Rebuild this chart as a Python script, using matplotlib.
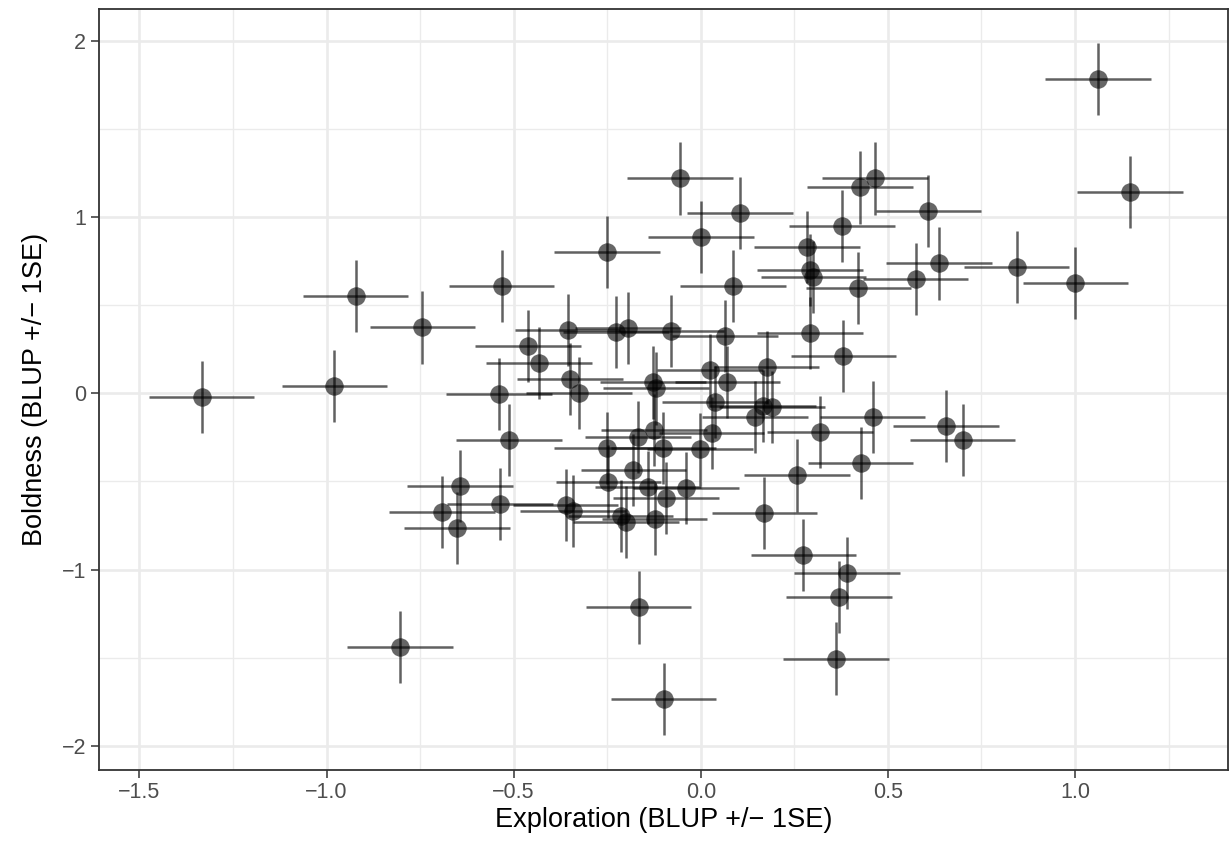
import matplotlib
matplotlib.use("Agg")
import matplotlib.pyplot as plt

plt.rcParams["font.family"] = ["Liberation Sans", "DejaVu Sans"]

# BLUP estimates
exploration = [
    -0.056, 0.105, -0.251, 0.000, 0.086, 0.284, 0.377, 0.425, 0.466, 0.608,
    0.292, 0.301, 0.421, 0.574, 0.637, 1.062, 1.147, 0.844, 1.001, 0.700,
    -1.334, -0.922, -0.979, -0.804, -0.532, -0.744, -0.461, -0.432, -0.356, -0.227,
    -0.195, -0.080, -0.350, -0.325, -0.539, -0.512, -0.127, -0.120, -0.167, -0.125,
    -0.250, -0.100, -0.002, -0.180, -0.247, -0.644, -0.692, -0.652, -0.537, -0.361,
    -0.341, -0.141, -0.039, -0.093, -0.214, -0.200, -0.123, -0.166, 0.065, 0.292,
    0.381, 0.025, 0.071, 0.176, 0.038, 0.145, 0.167, 0.191, 0.319, 0.459,
    0.655, 0.029, 0.427, 0.257, 0.170, 0.274, 0.391, 0.369, 0.361, -0.099,
]
boldness = [
    1.219, 1.021, 0.803, 0.888, 0.607, 0.831, 0.949, 1.168, 1.219, 1.036,
    0.700, 0.661, 0.596, 0.648, 0.737, 1.783, 1.142, 0.718, 0.624, -0.265,
    -0.019, 0.554, 0.043, -1.440, 0.610, 0.374, 0.270, 0.170, 0.359, 0.349,
    0.369, 0.353, 0.081, 0.003, -0.004, -0.265, 0.062, 0.028, -0.246, -0.208,
    -0.312, -0.312, -0.318, -0.435, -0.501, -0.526, -0.672, -0.762, -0.628, -0.634,
    -0.666, -0.534, -0.537, -0.592, -0.696, -0.728, -0.713, -1.215, 0.327, 0.344,
    0.212, 0.130, 0.066, 0.147, -0.051, -0.133, -0.070, -0.079, -0.221, -0.133,
    -0.185, -0.227, -0.394, -0.466, -0.681, -0.919, -1.018, -1.154, -1.505, -1.734,
]
# standard errors (bars look the same length everywhere)
se_x = 0.141
se_y = 0.205

x_ticks = [-1.5, -1.0, -0.5, 0.0, 0.5, 1.0]
y_ticks = [-2, -1, 0, 1, 2]
x_minor = [-1.25, -0.75, -0.25, 0.25, 0.75, 1.25]
y_minor = [-1.5, -0.5, 0.5, 1.5]

fig = plt.figure(figsize=(12.3, 8.41), dpi=100)
ax = fig.add_axes([0.0802, 0.0848, 0.9185, 0.9045])

ax.errorbar(exploration, boldness, xerr=se_x, yerr=se_y, fmt="none",
            ecolor="black", elinewidth=1.8, alpha=0.62, capsize=0, zorder=3)
ax.plot(exploration, boldness, "o", color="black", alpha=0.6,
        markersize=13.3, markeredgewidth=0, zorder=4)

ax.set_xlim(-1.609, 1.41)
ax.set_ylim(-2.135, 2.18)
ax.set_xticks(x_ticks)
ax.set_xticklabels([f"{v:.1f}".replace("-", "\u2212") for v in x_ticks])
ax.set_yticks(y_ticks)
ax.set_yticklabels([str(v).replace("-", "\u2212") for v in y_ticks])
ax.set_xticks(x_minor, minor=True)
ax.set_yticks(y_minor, minor=True)

ax.grid(True, which="major", color="#EBEBEB", linewidth=1.9, zorder=0)
ax.grid(True, which="minor", color="#EBEBEB", linewidth=0.95, zorder=0)
ax.set_axisbelow(True)

ax.tick_params(which="major", length=5.5, width=1.1, color="#333333",
               labelsize=15.5, labelcolor="#4D4D4D", pad=3.5)
ax.tick_params(which="minor", length=0)
for sp in ax.spines.values():
    sp.set_color("#333333")
    sp.set_linewidth(1.3)

ax.set_xlabel("Exploration (BLUP +/\u2212 1SE)", fontsize=19.5, labelpad=3)
ax.set_ylabel("Boldness (BLUP +/\u2212 1SE)", fontsize=19.5, labelpad=10)

fig.savefig("out.png", dpi=100)
